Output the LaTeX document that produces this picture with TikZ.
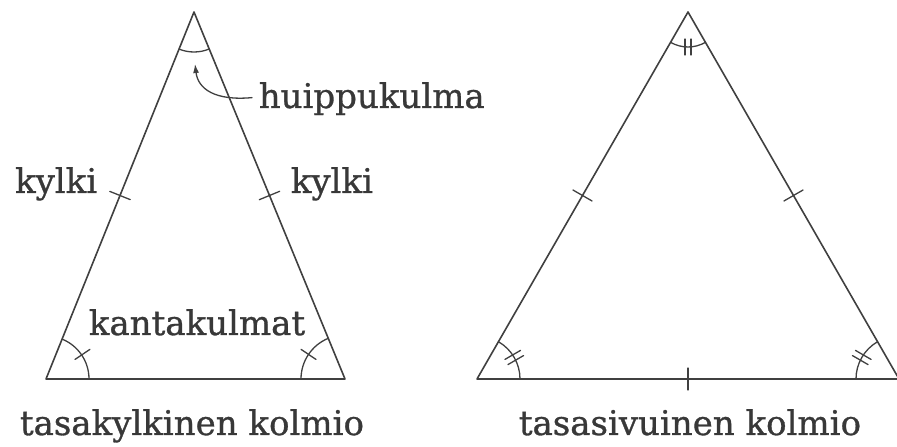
\documentclass[tikz,border=0pt]{standalone}
\usepackage{fontspec}
\setmainfont{DejaVu Serif}[FakeBold=0.9]
\usetikzlibrary{arrows.meta,calc}
\begin{document}
\begin{tikzpicture}[x=1pt,y=1pt, line width=1.6pt, color=black!75, line cap=round,
  lbl/.style={inner sep=0pt, text=black!78, font=\fontsize{34}{38}\selectfont},
  mk/.style={line width=1.3pt}]
\useasboundingbox (0,0) rectangle (897,447);
% left triangle (isosceles)
\coordinate (A) at (194,435);
\coordinate (B) at (46,68);
\coordinate (C) at (345,68);
\draw[line join=round] (A) -- (B) -- (C) -- cycle;
% side ticks
\coordinate (mAB) at ($(A)!0.5!(B)$);
\coordinate (mAC) at ($(A)!0.5!(C)$);
\draw[mk] ($(mAB)!11pt!90:(A)$) -- ($(mAB)!11pt!-90:(A)$);
\draw[mk] ($(mAC)!11pt!90:(A)$) -- ($(mAC)!11pt!-90:(A)$);
% angle arcs
\draw[mk] ($(B)+(0:43)$) arc[start angle=0,end angle=68,radius=43];
\draw[mk] ($(C)+(112.4:44)$) arc[start angle=112.4,end angle=180,radius=44];
\draw[mk] ($(A)+(248:40)$) arc[start angle=248,end angle=292.4,radius=40];
\draw[mk] ($(B)+(34:35)$) -- ($(B)+(34:53)$);
\draw[mk] ($(C)+(146:35)$) -- ($(C)+(146:53)$);
% labels
\node[lbl, anchor=base west] (hk) at (258,339) {huippukulma};
\node[lbl, anchor=base east] (k1) at (98,254) {kylki};
\node[lbl, anchor=base west] (k2) at (290,254) {kylki};
\node[lbl, anchor=base] (kk) at (197,112) {kantakulmat};
\node[lbl, anchor=base] (t1) at (192,12) {tasakylkinen kolmio};
\coordinate (tip) at (195,383);
\draw[mk, -{Latex[length=9pt,width=6pt]}] ([xshift=-6pt,yshift=1pt]hk.west) .. controls (215,346) and (198,358) .. (tip);
% right triangle (equilateral)
\coordinate (D) at (688,435);
\coordinate (E) at (477,68);
\coordinate (F) at (899,68);
\draw[line join=round] (D) -- (E) -- (F) -- cycle;
\coordinate (mDE) at ($(D)!0.5!(E)$);
\coordinate (mDF) at ($(D)!0.5!(F)$);
\coordinate (mEF) at ($(E)!0.5!(F)$);
\draw[mk] ($(mDE)!11pt!90:(D)$) -- ($(mDE)!11pt!-90:(D)$);
\draw[mk] ($(mDF)!11pt!90:(D)$) -- ($(mDF)!11pt!-90:(D)$);
\draw[mk] ($(mEF)+(0,11)$) -- ($(mEF)+(0,-11)$);
\draw[mk] ($(E)+(0:43)$) arc[start angle=0,end angle=60.1,radius=43];
\draw[mk] ($(F)+(119.9:43)$) arc[start angle=119.9,end angle=180,radius=43];
\draw[mk] ($(D)+(240.1:35)$) arc[start angle=240.1,end angle=299.9,radius=35];
% double ticks
\draw[mk] ($(E)+(30:34)+(120:3)$) -- ++(30:18);
\draw[mk] ($(E)+(30:34)+(-60:3)$) -- ++(30:18);
\draw[mk] ($(F)+(150:34)+(60:3)$) -- ++(150:18);
\draw[mk] ($(F)+(150:34)+(240:3)$) -- ++(150:18);
\draw[mk] ($(D)+(270:27)+(0:3)$) -- ++(270:16);
\draw[mk] ($(D)+(270:27)+(180:3)$) -- ++(270:16);
\node[lbl, anchor=base] (t2) at (690,12) {tasasivuinen kolmio};
\end{tikzpicture}
\end{document}
